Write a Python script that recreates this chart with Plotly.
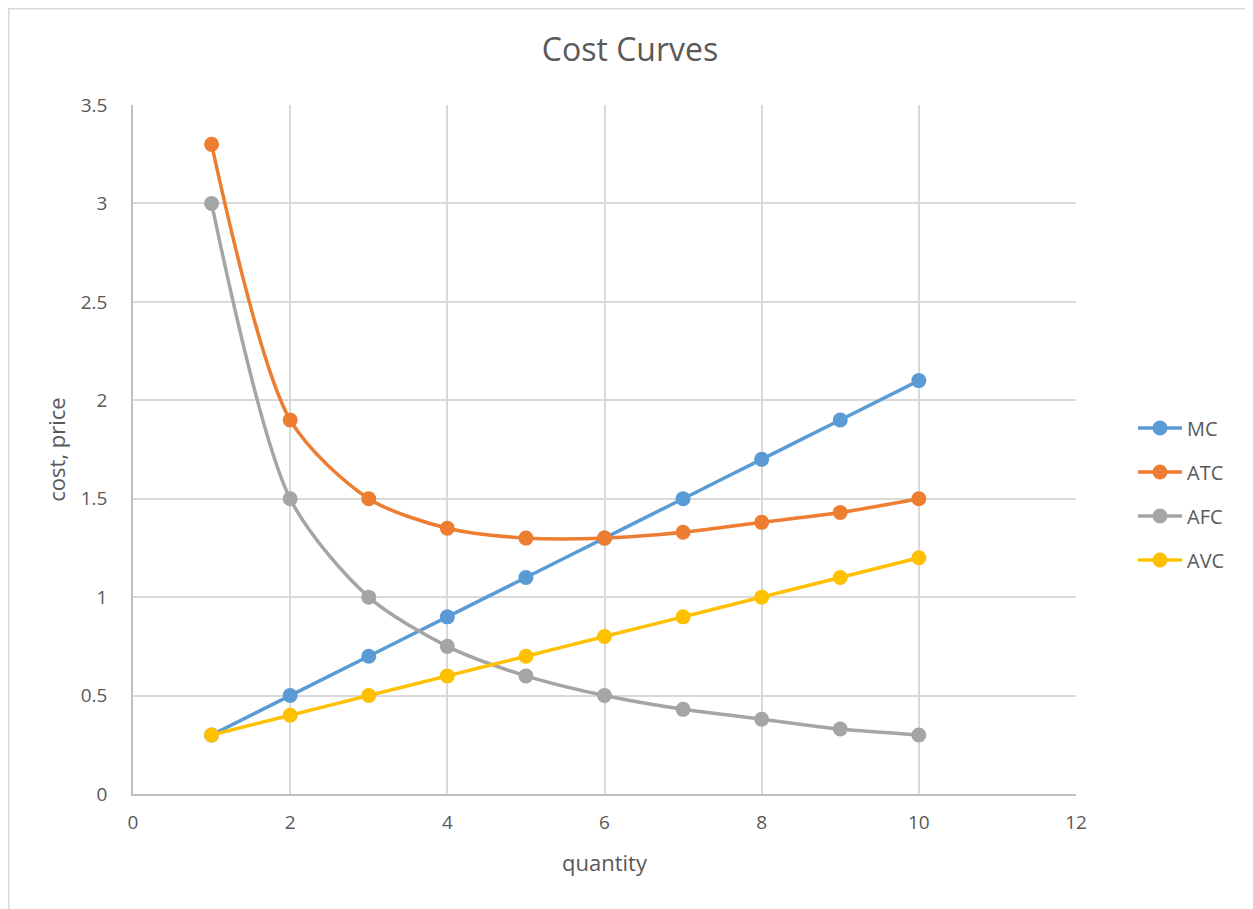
import plotly.graph_objects as go

quantity = [1, 2, 3, 4, 5, 6, 7, 8, 9, 10]
mc = [0.3, 0.5, 0.7, 0.9, 1.1, 1.3, 1.5, 1.7, 1.9, 2.1]
atc = [3.3, 1.9, 1.5, 1.35, 1.3, 1.3, 1.33, 1.38, 1.43, 1.5]
afc = [3.0, 1.5, 1.0, 0.75, 0.6, 0.5, 0.43, 0.38, 0.33, 0.3]
avc = [0.3, 0.4, 0.5, 0.6, 0.7, 0.8, 0.9, 1.0, 1.1, 1.2]

series = [("MC", mc, "#5B9BD5"), ("ATC", atc, "#ED7D31"),
          ("AFC", afc, "#A5A5A5"), ("AVC", avc, "#FFC000")]

font = "Open Sans, Liberation Sans, sans-serif"
fig = go.Figure()
for name, vals, col in series:
    fig.add_trace(go.Scatter(
        x=quantity, y=vals, name=name, mode="lines+markers",
        line=dict(color=col, width=3.5, shape="spline", smoothing=0.8),
        marker=dict(color=col, size=15),
        legendgroup=name,
    ))

OFF = 8  # page body margin
W, H = 1253 - OFF, 909 - OFF
L, R, T, B = 133 - OFF, 1253 - 1076, 105 - OFF, 909 - 794
pw, ph = W - L - R, H - T - B

def px2x(px):
    return (px - OFF - L) / pw

def py2y(py):
    return (H - B - (py - OFF)) / ph

fig.update_layout(
    width=W, height=H,
    margin=dict(l=L, r=R, t=T, b=B, autoexpand=False),
    paper_bgcolor="white", plot_bgcolor="white",
    font=dict(family=font, color="#595959", size=18),
    title=dict(text="Cost Curves", x=(630 - OFF) / W, xanchor="center", y=1 - (50 - OFF) / H,
               yanchor="middle", font=dict(size=32, color="#595959")),
    legend=dict(x=px2x(1133), xanchor="left", y=py2y(494), yanchor="middle",
                font=dict(size=20, color="#595959"), tracegroupgap=15,
                itemwidth=44, bgcolor="rgba(0,0,0,0)"),
    xaxis=dict(range=[0, 12], dtick=2, tick0=0, showgrid=True, gridcolor="#D9D9D9",
               gridwidth=1.5, showline=True, linecolor="#BFBFBF", linewidth=1.5,
               zeroline=False, ticks="", tickfont=dict(size=19, color="#595959"),
               ticklabelstandoff=10,
               title=dict(text="quantity", font=dict(size=22, color="#595959"), standoff=22)),
    yaxis=dict(range=[0, 3.5], dtick=0.5, tick0=0, showgrid=True, gridcolor="#D9D9D9",
               gridwidth=1.5, showline=True, linecolor="#BFBFBF", linewidth=1.5,
               zeroline=False, ticks="", tickfont=dict(size=19, color="#595959"),
               ticklabelstandoff=20,
               title=dict(text="cost, price", font=dict(size=22, color="#595959"), standoff=9)),
)
# chart border
fig.add_shape(type="rect", xref="paper", yref="paper",
              x0=px2x(8.8), x1=px2x(1300), y0=py2y(1000), y1=py2y(8.8),
              line=dict(color="#D9D9D9", width=1.5), fillcolor="rgba(0,0,0,0)", layer="below")
fig.write_html("out.html")
